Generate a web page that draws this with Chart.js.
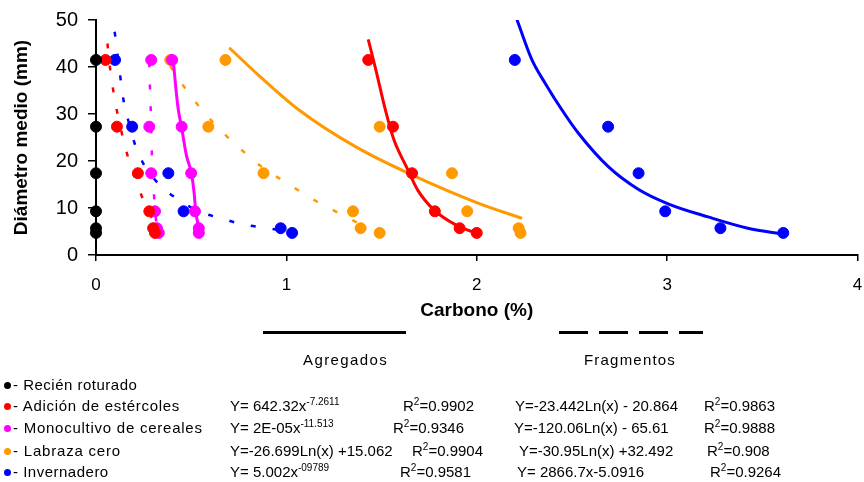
<!DOCTYPE html>
<html lang="es">
<head>
  <meta charset="UTF-8" />
  <title>Diámetro medio vs Carbono</title>
  <script src="https://cdn.jsdelivr.net/npm/chart.js"></script>
  <style>
    body { margin: 0; background: #fff; }
    #wrap { position: relative; width: 864px; height: 482px; }
    .t {
      position: absolute;
      font-family: 'Liberation Sans', Arial, sans-serif;
      font-size: 15px;
      line-height: 18px;
      white-space: pre;
      color: #000;
    }
    .t sup { font-size: 10px; vertical-align: 6px; line-height: 0; }
    .lg { letter-spacing: 0.5px; }
    .dot { position: absolute; width: 7px; height: 7px; border-radius: 50%; }
  </style>
</head>
<body>
<div id="wrap">
  <canvas id="grafico" width="864" height="482"></canvas>

  <!-- leyenda de tipos de linea -->
  <div style="position:absolute;left:263px;top:331px;width:143px;height:3px;background:#000"></div>
  <div style="position:absolute;left:559px;top:331px;width:144px;height:3px;background:repeating-linear-gradient(to right,#000 0 29px,transparent 29px 40px)"></div>
  <div class="t" style="left:303px;top:351px;letter-spacing:1.4px">Agregados</div>
  <div class="t" style="left:584px;top:351px;letter-spacing:1.2px">Fragmentos</div>

  <!-- tratamientos -->
  <div class="dot" style="left:4px;top:382px;background:#000"></div>
  <div class="dot" style="left:4px;top:403px;background:#ff0000"></div>
  <div class="dot" style="left:4px;top:425px;background:#ff00ff"></div>
  <div class="dot" style="left:4px;top:448px;background:#ff9900"></div>
  <div class="dot" style="left:4px;top:469px;background:#0000ff"></div>
  <div class="t lg" style="left:13px;top:376px">- Recién roturado</div>
  <div class="t lg" style="left:13px;top:397px;letter-spacing:0.7px">- Adición de estércoles</div>
  <div class="t lg" style="left:13px;top:419px;letter-spacing:0.75px">- Monocultivo de cereales</div>
  <div class="t lg" style="left:13px;top:442px;letter-spacing:0.8px">- Labraza cero</div>
  <div class="t lg" style="left:13px;top:463px">- Invernadero</div>

  <!-- ecuaciones agregados -->
  <div class="t" style="left:230px;top:397px">Y= 642.32x<sup>-7.2611</sup></div>
  <div class="t" style="left:230px;top:419px">Y= 2E-05x<sup>-11.513</sup></div>
  <div class="t" style="left:230px;top:442px">Y=-26.699Ln(x) +15.062</div>
  <div class="t" style="left:230px;top:463px">Y= 5.002x<sup>-09789</sup></div>
  <div class="t" style="left:403px;top:397px">R<sup>2</sup>=0.9902</div>
  <div class="t" style="left:393px;top:419px">R<sup>2</sup>=0.9346</div>
  <div class="t" style="left:412px;top:442px">R<sup>2</sup>=0.9904</div>
  <div class="t" style="left:400px;top:463px">R<sup>2</sup>=0.9581</div>

  <!-- ecuaciones fragmentos -->
  <div class="t" style="left:515px;top:397px">Y=-23.442Ln(x) - 20.864</div>
  <div class="t" style="left:514px;top:419px">Y=-120.06Ln(x) - 65.61</div>
  <div class="t" style="left:519px;top:442px">Y=-30.95Ln(x) +32.492</div>
  <div class="t" style="left:517px;top:463px">Y= 2866.7x-5.0916</div>
  <div class="t" style="left:704px;top:397px">R<sup>2</sup>=0.9863</div>
  <div class="t" style="left:704px;top:419px">R<sup>2</sup>=0.9888</div>
  <div class="t" style="left:707px;top:442px">R<sup>2</sup>=0.908</div>
  <div class="t" style="left:710px;top:463px">R<sup>2</sup>=0.9264</div>
</div>

<script>
  // diametro medio de cada fraccion (mm)
  const diametro = [41.5, 27.3, 17.4, 9.3, 5.7, 4.7];

  // carbono (%) por tratamiento
  const cRecien = [0, 0, 0, 0, 0, 0];
  const cEstiercolAgr = [1.43, 1.56, 1.66, 1.78, 1.91, 2.00];
  const cEstiercolFrag = [0.05, 0.11, 0.22, 0.28, 0.30, 0.31];
  const cMonoAgr = [0.40, 0.45, 0.50, 0.52, 0.54, 0.54];
  const cMonoFrag = [0.29, 0.28, 0.29, 0.31, 0.32, 0.33];
  const cLabrazaAgr = [0.68, 1.49, 1.87, 1.95, 2.22, 2.23];
  const cLabrazaFrag = [0.39, 0.59, 0.88, 1.35, 1.39, 1.49];
  const cInvAgr = [2.20, 2.69, 2.85, 2.99, 3.28, 3.61];
  const cInvFrag = [0.10, 0.19, 0.38, 0.46, 0.97, 1.03];

  // lineas de tendencia
  const tEstAgrX = [1.43, 1.47, 1.52, 1.565, 1.63, 1.69, 1.775, 1.89, 2.02];
  const tEstAgrY = [45.9, 39.4, 30.9, 24.5, 18.8, 13.8, 9.6, 6.4, 4.3];
  const tEstFragX = [0.06, 0.073, 0.099, 0.152, 0.183, 0.222, 0.26, 0.30];
  const tEstFragY = [45, 40, 33, 23.2, 18.9, 14.4, 10.7, 7.4];
  const tMonoAgrX = [0.405, 0.43, 0.449, 0.475, 0.501, 0.515, 0.524, 0.541];
  const tMonoAgrY = [41.6, 31.6, 27.3, 21.2, 17.4, 13.4, 9.3, 5.5];
  const tMonoFragX = [0.280, 0.283, 0.287, 0.293, 0.304, 0.315, 0.326];
  const tMonoFragY = [41, 36, 31.6, 22, 13.1, 7.5, 4.7];
  const tLabAgrX = [0.70, 0.85, 1.068, 1.365, 1.662, 2.01, 2.238];
  const tLabAgrY = [44.1, 38.4, 30.8, 23.0, 17.0, 11.0, 7.8];
  const tLabFragX = [0.39, 0.475, 0.556, 0.658, 0.78, 0.876, 1.007, 1.12, 1.234, 1.347, 1.449];
  const tLabFragY = [40.2, 35.1, 30.9, 26.4, 21.8, 18.6, 15.2, 12.3, 9.8, 7.4, 5.3];
  const tInvAgrX = [2.211, 2.29, 2.36, 2.447, 2.534, 2.691, 2.848, 3.005, 3.215, 3.424, 3.616];
  const tInvAgrY = [50.1, 41.5, 36.5, 30.9, 25.9, 18.8, 14.0, 10.9, 8.1, 5.7, 4.4];
  const tInvFragX = [0.098, 0.12, 0.143, 0.169, 0.2, 0.248, 0.335, 0.44, 0.545, 0.658, 0.771, 0.888, 1.026];
  const tInvFragY = [47.5, 40.5, 33.3, 28.7, 24.1, 19.5, 14.9, 11.6, 9.2, 7.8, 6.5, 5.8, 4.9];

  const negro = '#000000', rojo = '#ff0000', magenta = '#ff00ff', naranja = '#ff9900', azul = '#0000ff';

  function pts(xs, ys) {
    return xs.map((x, i) => ({ x: x, y: ys[i] }));
  }

  function puntos(xs, color) {
    return {
      data: pts(xs, diametro),
      backgroundColor: color,
      borderColor: color,
      pointRadius: 5.5,
      pointHoverRadius: 5.5,
      showLine: false,
      clip: false
    };
  }

  function tendencia(xs, ys, color, discontinua) {
    return {
      data: pts(xs, ys),
      borderColor: color,
      backgroundColor: color,
      borderWidth: discontinua ? 2.5 : 3,
      borderDash: discontinua ? [5, 17] : [],
      pointRadius: 0,
      showLine: true,
      cubicInterpolationMode: 'monotone',
      fill: false
    };
  }

  Chart.defaults.font.family = "'Liberation Sans', Arial, sans-serif";
  Chart.defaults.color = '#000';

  new Chart(document.getElementById('grafico'), {
    type: 'scatter',
    data: {
      datasets: [
        puntos(cRecien, negro),
        puntos(cEstiercolAgr, rojo),
        puntos(cEstiercolFrag, rojo),
        puntos(cMonoAgr, magenta),
        puntos(cMonoFrag, magenta),
        puntos(cLabrazaAgr, naranja),
        puntos(cLabrazaFrag, naranja),
        puntos(cInvAgr, azul),
        puntos(cInvFrag, azul),
        tendencia(tEstAgrX, tEstAgrY, rojo, false),
        tendencia(tEstFragX, tEstFragY, rojo, true),
        tendencia(tMonoAgrX, tMonoAgrY, magenta, false),
        tendencia(tMonoFragX, tMonoFragY, magenta, true),
        tendencia(tLabAgrX, tLabAgrY, naranja, false),
        tendencia(tLabFragX, tLabFragY, naranja, true),
        tendencia(tInvAgrX, tInvAgrY, azul, false),
        tendencia(tInvFragX, tInvFragY, azul, true)
      ]
    },
    options: {
      responsive: false,
      animation: false,
      layout: { padding: { left: 0, top: 20, right: 5, bottom: 157 } },
      plugins: { legend: { display: false }, tooltip: { enabled: false } },
      scales: {
        x: {
          type: 'linear',
          min: 0,
          max: 4,
          ticks: { stepSize: 1, padding: 14, font: { size: 17 } },
          grid: { drawOnChartArea: false, drawTicks: true, tickLength: 6, color: '#000', lineWidth: 1.5 },
          border: { color: '#000', width: 2 },
          title: { display: true, text: 'Carbono (%)', font: { size: 19, weight: 'bold' }, padding: { top: 0, bottom: 3 } },
          afterFit(s) { s.height = 70; s.paddingLeft = 0; s.paddingRight = 4; }
        },
        y: {
          min: 0,
          max: 50,
          ticks: { stepSize: 10, padding: 10, font: { size: 20 } },
          grid: { drawOnChartArea: false, drawTicks: true, tickLength: 8, color: '#000', lineWidth: 1.5 },
          border: { color: '#000', width: 2 },
          title: { display: true, text: 'Diámetro medio (mm)', font: { size: 19, weight: 'bold' }, padding: { top: 10, bottom: 0 } },
          afterFit(s) { s.width = 96; s.paddingTop = 0; s.paddingBottom = 0; }
        }
      }
    }
  });
</script>
</body>
</html>
